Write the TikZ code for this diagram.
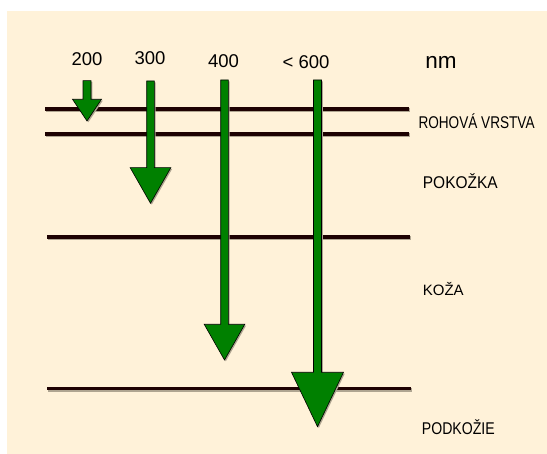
\documentclass[tikz,border=0pt]{standalone}
\usepackage{fontspec}
\setmainfont{Liberation Sans}
\definecolor{cream}{RGB}{255,242,217}
\definecolor{layerline}{RGB}{30,2,2}
\definecolor{arrowgreen}{RGB}{0,128,0}
\definecolor{shadowgrey}{RGB}{175,165,145}
\newcommand{\mkarrow}[6]{%
  \begin{scope}[shift={(1.3,1.3)}]
    \fill[shadowgrey] (#1-#3,#2) -- (#1+#3,#2) -- (#1+#3,#4) -- (#1+#5,#4) -- (#1,#6) -- (#1-#5,#4) -- (#1-#3,#4) -- cycle;
  \end{scope}
  \filldraw[uvarrow] (#1-#3,#2) -- (#1+#3,#2) -- (#1+#3,#4) -- (#1+#5,#4) -- (#1,#6) -- (#1-#5,#4) -- (#1-#3,#4) -- cycle;}
\begin{document}
\begin{tikzpicture}[x=1pt,y=-1pt,
  layer/.style={draw=layerline,line width=3.8pt},
  layershadow/.style={draw=shadowgrey,line width=3.8pt},
  uvarrow/.style={fill=arrowgreen,draw=black,line width=0.6pt,line join=miter},
  wave/.style={inner sep=0pt,anchor=base,font=\fontsize{18.5}{20}\selectfont},
  layername/.style={inner sep=0pt,anchor=base west,font=\fontsize{17}{19}\selectfont}]
\useasboundingbox (0,0) rectangle (547,454);
\fill[cream] (7,11) rectangle (547,454);
% layer boundaries
\foreach \y/\xa/\xb in {108.7/45/409, 134/45/409, 237/47/410, 388.5/47/411}{
  \draw[layershadow] (\xa+1,\y+1.2) -- (\xb+1,\y+1.2);
  \draw[layer] (\xa,\y) -- (\xb,\y);
}
% arrows
\mkarrow{87}{80.7}{4}{99.3}{14.5}{121}
\mkarrow{150.5}{81}{3.8}{167.7}{20.3}{203.3}
\mkarrow{224.5}{80}{3.8}{324.3}{20.3}{360}
\mkarrow{317.5}{80}{4}{372.3}{26}{426.7}
% wavelength labels
\node[wave] (w200) at (87,65.7) {200};
\node[wave] (w300) at (150,65) {300};
\node[wave] (w400) at (223.5,67.3) {400};
\node[wave] (w600) at (306,68.3) {<\ 600};
\node[wave,font=\fontsize{22.5}{24}\selectfont] (nm) at (441,68.3) {nm};
% layer names
\node[layername] (rohova) at (418.3,128.3) {\scalebox{0.8}[1]{ROHOVÁ VRSTVA}};
\node[layername] (pokozka) at (422.7,188.3) {\scalebox{0.91}[1]{POKOŽKA}};
\node[layername,font=\fontsize{15}{17}\selectfont] (koza) at (422.7,296) {KOŽA};
\node[layername] (podkozie) at (421.7,434.3) {\scalebox{0.83}[1]{PODKOŽIE}};
\end{tikzpicture}
\end{document}
